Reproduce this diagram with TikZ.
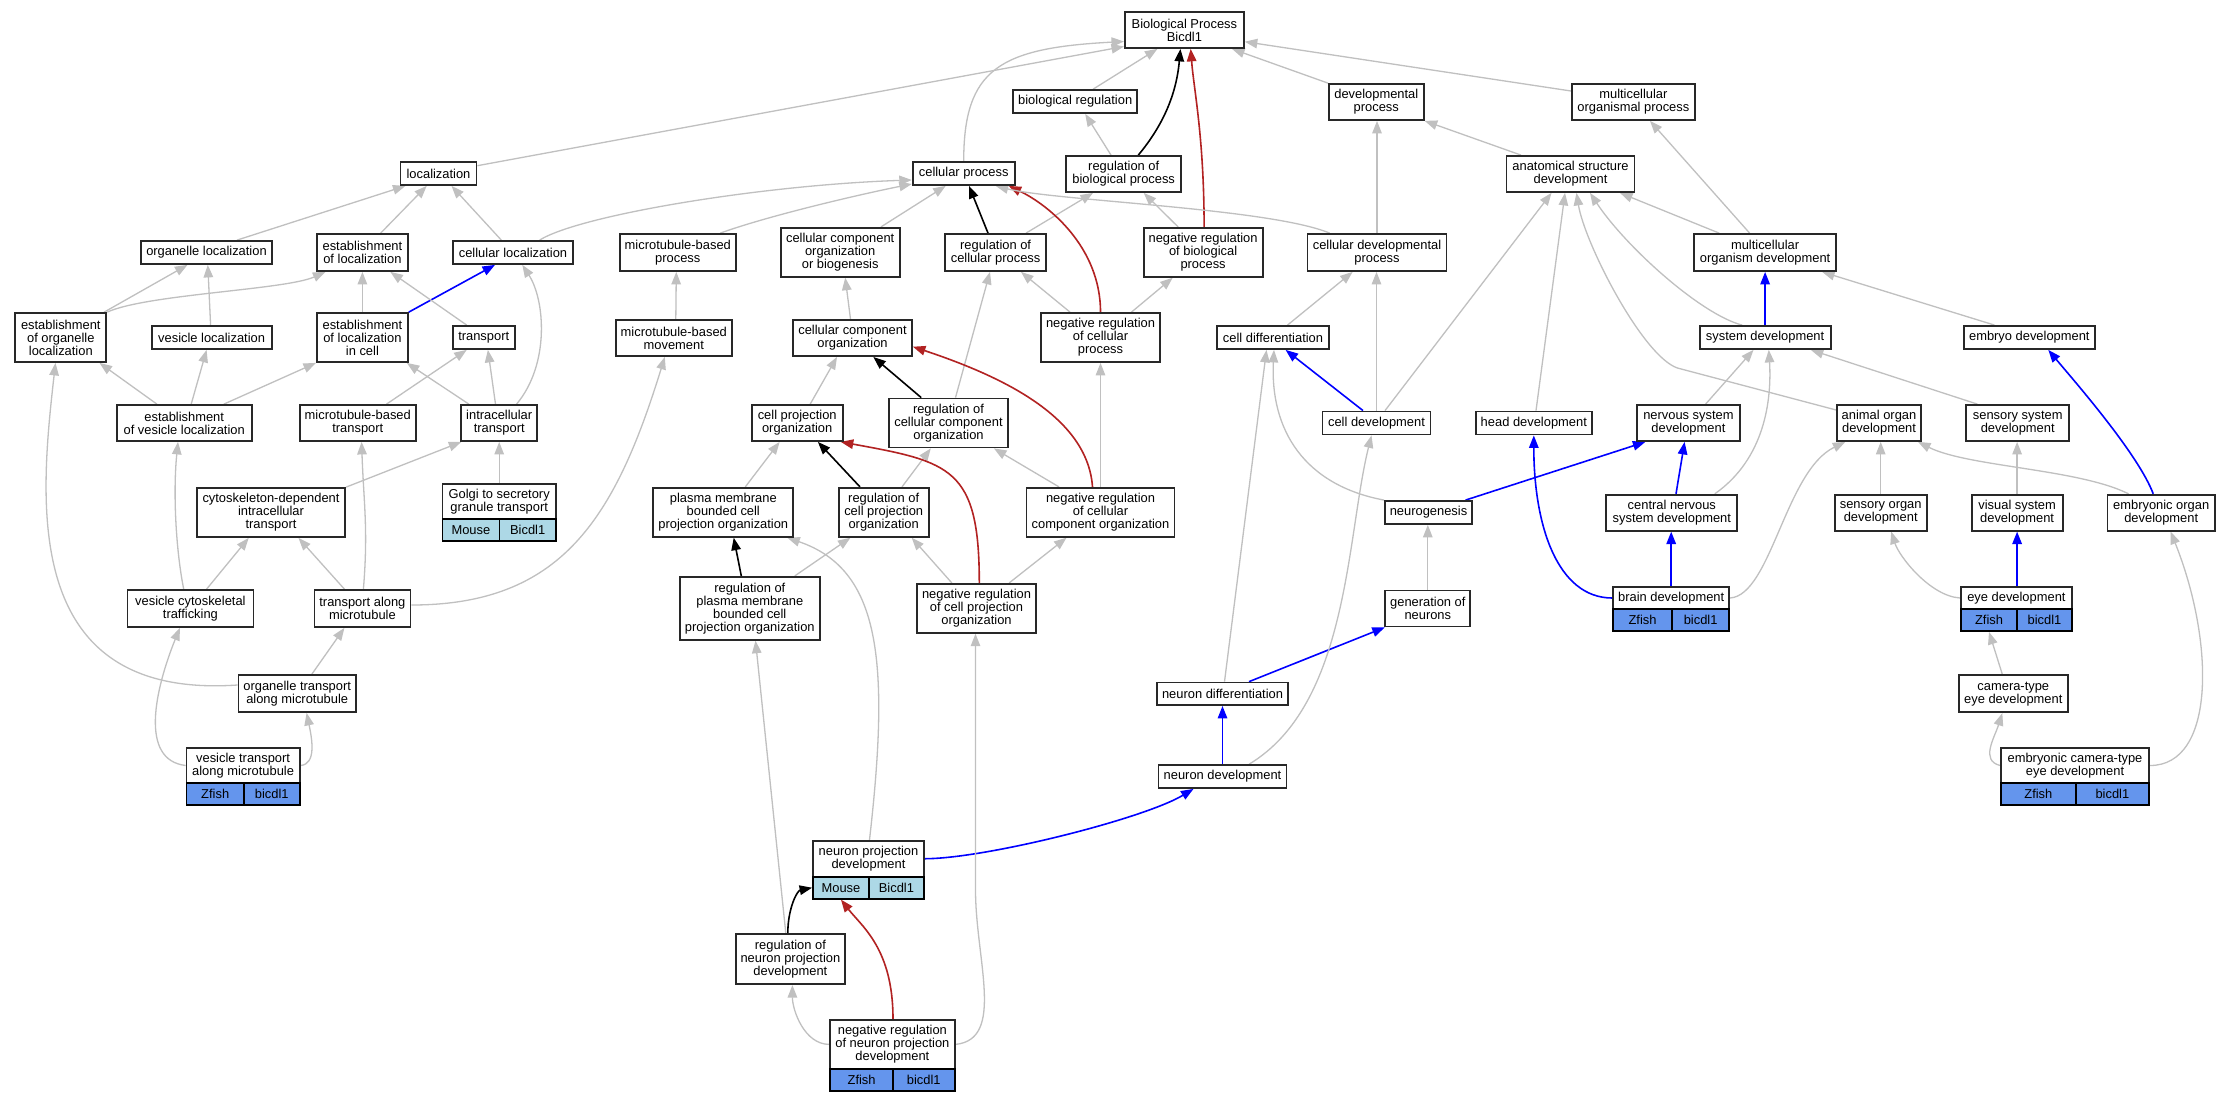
\documentclass[tikz,border=0pt]{standalone}
\usepackage{fontspec}
\setmainfont{Liberation Sans}
\usetikzlibrary{arrows.meta,calc}
\definecolor{gcol}{RGB}{192,192,192}
\definecolor{bcol}{RGB}{40,40,40}
\definecolor{zcol}{RGB}{100,149,237}
\definecolor{mcol}{RGB}{173,216,230}
\definecolor{rcol}{RGB}{178,34,34}
\newcommand\nf{\fontsize{12.9}{13}\selectfont}
\newcommand\gnode[6]{\node[bx,minimum width=#4pt,minimum height=#5pt] (#1) at (#2,#3) {#6};}
\newcommand\spcell[6]{\node[#2,minimum width=#5pt] (#1) at (#3,#4) {#6};}
\pgfdeclarelayer{bg}
\pgfsetlayers{bg,main}
\tikzset{
  bx/.style={draw=bcol,line width=1.8pt,fill=white,inner sep=0pt,align=center,font=\nf,text=black},
  spc/.style={draw=black,line width=1.8pt,inner sep=0pt,font=\nf,minimum height=22pt,text=black},
  zf/.style={spc,fill=zcol},
  ms/.style={spc,fill=mcol},
  tip/.style={-{Triangle[length=12.5pt,width=9.5pt]}},
  ge/.style={tip,draw=gcol,line width=1.3pt},
  be/.style={tip,draw=blue,line width=1.6pt},
  re/.style={tip,draw=rcol,line width=1.6pt},
  ke/.style={tip,draw=black,line width=1.6pt}
}
\begin{document}
\begin{tikzpicture}[x=1pt,y=-1pt]
\useasboundingbox (0,0) rectangle (2231,1101);
% ---------- nodes ----------
\gnode{bp}{1184.4}{30}{119}{36}{Biological Process\\Bicdl1}
\gnode{breg}{1075.2}{101.5}{124}{23}{biological regulation}
\gnode{devp}{1376.3}{102}{95}{36}{developmental\\process}
\gnode{mop}{1633.4}{102}{123}{36}{multicellular\\organismal process}
\gnode{loc}{438.5}{173.5}{76}{23}{localization}
\gnode{cp}{963.7}{173.5}{102}{23}{cellular process}
\gnode{rbp}{1123.7}{174}{115}{36}{regulation of\\biological process}
\gnode{asd}{1570.5}{174}{128}{36}{anatomical structure\\development}
\gnode{orgloc}{206.5}{252.5}{131}{23}{organelle localization}
\gnode{estloc}{362.4}{252.5}{91}{37}{establishment\\of localization}
\gnode{cellloc}{513}{252.5}{120.5}{23}{cellular localization}
\gnode{mbp}{677.8}{252.5}{116}{37}{microtubule-based\\process}
\gnode{ccob}{840.2}{252.3}{119}{49}{cellular component\\organization\\or biogenesis}
\gnode{rcp}{995.6}{252.5}{101.4}{37}{regulation of\\cellular process}
\gnode{nrbp}{1203.1}{252.3}{119}{49}{negative regulation\\of biological\\process}
\gnode{cdp}{1377}{252.5}{139}{37}{cellular developmental\\process}
\gnode{mod}{1765.1}{252.5}{142}{37}{multicellular\\organism development}
\gnode{estorgloc}{60.8}{337.5}{91}{49}{establishment\\of organelle\\localization}
\gnode{vesloc}{211.6}{337.5}{120}{23}{vesicle localization}
\gnode{estlocc}{362.4}{337.5}{91}{49}{establishment\\of localization\\in cell}
\gnode{transp}{483.7}{337.5}{62}{23}{transport}
\gnode{mbm}{673.8}{338}{116}{36}{microtubule-based\\movement}
\gnode{cco}{852.5}{338}{119}{36}{cellular component\\organization}
\gnode{nrcp}{1100.5}{337.5}{119}{49}{negative regulation\\of cellular\\process}
\gnode{celldiff}{1273}{337.5}{112.5}{23}{cell differentiation}
\gnode{sysdev}{1765.1}{337.5}{131}{23}{system development}
\gnode{embdev}{2029.3}{337.5}{131}{23}{embryo development}
\gnode{estvesloc}{184.2}{423}{135}{36}{establishment\\of vesicle localization}
\gnode{mbt}{357.8}{423}{116}{36}{microtubule-based\\transport}
\gnode{ict}{499.2}{423}{76}{36}{intracellular\\transport}
\gnode{cpo}{797.2}{423}{91}{36}{cell projection\\organization}
\gnode{rcco}{948.5}{423}{119}{49}{regulation of\\cellular component\\organization}
\gnode{celldev}{1376.5}{423}{108}{23}{cell development}
\gnode{headdev}{1533.8}{423}{116}{23}{head development}
\gnode{nsd}{1688.4}{423}{103}{36}{nervous system\\development}
\gnode{aod}{1879}{423}{84}{36}{animal organ\\development}
\gnode{ssd}{2017.7}{423}{103}{36}{sensory system\\development}
\gnode{cdit}{271}{512.5}{148.5}{49}{cytoskeleton-dependent\\intracellular\\transport}
\gnode{golgi}{499.2}{501.5}{113.6}{35}{Golgi to secretory\\granule transport}
\gnode{pmbcpo}{723.3}{512.3}{140}{49}{plasma membrane\\bounded cell\\projection organization}
\gnode{rcpo}{883.7}{512.3}{90}{49}{regulation of\\cell projection\\organization}
\gnode{nrcco}{1100.5}{512.3}{148}{49}{negative regulation\\of cellular\\component organization}
\gnode{neurog}{1428.5}{512.5}{87}{23}{neurogenesis}
\gnode{cnsd}{1671.8}{512.7}{131}{36}{central nervous\\system development}
\gnode{sod}{1880.7}{512.7}{92}{36}{sensory organ\\development}
\gnode{vsd}{2017.1}{512.7}{91}{36}{visual system\\development}
\gnode{eod}{2161.2}{512.7}{107.6}{36}{embryonic organ\\development}
\gnode{vct}{190.4}{608.5}{126}{37}{vesicle cytoskeletal\\trafficking}
\gnode{tam}{362.4}{608.5}{96}{37}{transport along\\microtubule}
\gnode{rpmb}{749.8}{608.3}{140}{63}{regulation of\\plasma membrane\\bounded cell\\projection organization}
\gnode{nrcpo}{976.5}{608.3}{119}{49}{negative regulation\\of cell projection\\organization}
\gnode{gon}{1427.8}{608.5}{85}{36}{generation of\\neurons}
\gnode{brain}{1671.2}{598}{116}{22.6}{brain development}
\gnode{eye}{2016.4}{598}{111}{22.6}{eye development}
\gnode{otam}{297.2}{693.5}{117.5}{37}{organelle transport\\along microtubule}
\gnode{ndiff}{1222.5}{693.8}{131}{22.5}{neuron differentiation}
\gnode{cted}{2013.3}{693.7}{109.4}{37}{camera-type\\eye development}
\gnode{vtam}{243.1}{765.5}{113.2}{35}{vesicle transport\\along microtubule}
\gnode{ndev}{1222.5}{776.5}{128}{23}{neuron development}
\gnode{ected}{2075}{765.5}{148}{35.6}{embryonic camera-type\\eye development}
\gnode{npd}{868.5}{858.7}{111}{36}{neuron projection\\development}
\gnode{rnpd}{790.4}{959.2}{109.5}{50}{regulation of\\neuron projection\\development}
\gnode{nrnpd}{892.4}{1044.4}{124.4}{49.3}{negative regulation\\of neuron projection\\development}
% species cells
\spcell{golgim}{ms}{470.9}{530}{57}{Mouse}
\spcell{golgib}{ms}{527.7}{530}{56.6}{Bicdl1}
\spcell{vtamz}{zf}{215.2}{794}{57.4}{Zfish}
\spcell{vtamb}{zf}{271.8}{794}{55.8}{bicdl1}
\spcell{brainz}{zf}{1642.55}{620}{58.7}{Zfish}
\spcell{brainb}{zf}{1700.6}{620}{57.4}{bicdl1}
\spcell{eyez}{zf}{1989}{620}{56.2}{Zfish}
\spcell{eyeb}{zf}{2044.45}{620}{54.7}{bicdl1}
\spcell{ectedz}{zf}{2038.35}{794.3}{74.7}{Zfish}
\spcell{ectedb}{zf}{2112.4}{794.3}{73.4}{bicdl1}
\spcell{npdm}{ms}{840.95}{887.7}{55.9}{Mouse}
\spcell{npdb}{ms}{896.45}{887.7}{55.1}{Bicdl1}
\spcell{nrnpdz}{zf}{861.6}{1080}{62.8}{Zfish}
\spcell{nrnpdb}{zf}{923.8}{1080}{61.6}{bicdl1}
% ---------- edges ----------
\begin{pgfonlayer}{bg}
\fill[white] (0,0) rectangle (2231,1101);
% top
\draw[ge] ([yshift=7.8pt]loc.east) -- ([yshift=-16.5pt]bp.west);
\draw[ge] (cp.north) .. controls +(0,-92) and +(-124.9,6.5) .. ([yshift=-11.5pt]bp.west);
\draw[ge] ([xshift=18pt]breg.north) -- ([xshift=-27pt]bp.south);
\draw[ke] ([xshift=14.6pt]rbp.north) .. controls +(25,-30) and +(-4,45) .. ([xshift=-4pt]bp.south);
\draw[re] ([xshift=1pt]nrbp.north) .. controls +(0,-90) and +(3,40) .. ([xshift=6.3pt]bp.south);
\draw[ge] (devp.north west) -- ([xshift=47.6pt]bp.south);
\draw[ge] ([yshift=11pt]mop.west) -- ([yshift=-11.7pt]bp.east);
\draw[ge] ([xshift=-12.7pt]rbp.north) -- ([xshift=10pt]breg.south);
\draw[ke] ([xshift=-7.6pt]rcp.north) -- ([xshift=5.3pt]cp.south);
\draw[ge] ([xshift=30.4pt]rcp.north) -- ([xshift=-30.7pt]rbp.south);
\draw[re] (nrcp.north) .. controls +(0,-65) and +(40,19) .. ([xshift=45pt]cp.south);
\draw[ge] ([xshift=-30.5pt]nrcp.north) -- ([xshift=25.4pt]rcp.south);
\draw[ge] ([xshift=31pt]nrcp.north) -- ([xshift=-30.4pt]nrbp.south);
\draw[ge] ([xshift=-25pt]nrbp.north) -- ([xshift=20pt]rbp.south);
\draw[ge] ([xshift=-47.4pt]cdp.north) .. controls +(-60,-25) and +(60,15) .. ([xshift=32pt]cp.south);
\draw[ge] ([xshift=26.6pt]cellloc.north) .. controls +(40,-25) and +(-150,5) .. ([yshift=-6.5pt]cp.west);
\draw[ge] ([xshift=42.5pt]mbp.north) .. controls +(50,-18) and +(-50,10) .. ([yshift=-10.5pt]cp.west);
\draw[ge] ([xshift=40.8pt]ccob.north) -- ([xshift=-18pt]cp.south);
\draw[ge] (cdp.north) -- (cdp.north |- devp.south);
\draw[ge] ([xshift=-49.5pt]asd.north) -- (devp.south east);
\draw[ge] ([xshift=-15.5pt]mod.north) -- ([xshift=16.6pt]mop.south);
\draw[ge] ([xshift=-46pt]mod.north) -- ([xshift=49.5pt]asd.south);
\draw[be] (sysdev.north) -- (mod.south);
\draw[ge] ([xshift=-23pt]sysdev.north) .. controls +(-42,-11) and +(35,53) .. ([xshift=19.5pt]asd.south);
\draw[ge] ([xshift=-34.8pt]embdev.north) -- ([xshift=57pt]mod.south);
\draw[ge] ([xshift=14.5pt]celldiff.north) -- ([xshift=-24.4pt]cdp.south);
\draw[ge] (celldev.north) -- (celldev.north |- cdp.south);
\draw[be] ([xshift=-13.5pt]celldev.north) -- ([xshift=12.6pt]celldiff.south);
\draw[ge] ([xshift=8.5pt]celldev.north) -- ([xshift=-19pt]asd.south);
\draw[ge] ([xshift=2.2pt]headdev.north) -- ([xshift=-5.5pt]asd.south);
\draw[ge] ([yshift=13pt]aod.west) -- ++(-158.7,-42) .. controls +(-35,-12) and +(8,50) .. ([xshift=6pt]asd.south);
\draw[ge] ([xshift=17.2pt]nsd.north) -- ([xshift=-11.6pt]sysdev.south);
\draw[ge] ([xshift=43pt]cnsd.north) .. controls +(50,-35) and +(3,50) .. ([xshift=3.7pt]sysdev.south);
\draw[ge] ([xshift=-40.4pt]ssd.north) -- ([xshift=45.7pt]sysdev.south);
\draw[be] ([xshift=37pt]neurog.north) -- ([xshift=-43pt]nsd.south);
\draw[ge] (neurog.north west) .. controls +(-80,-15) and +(-4,80) .. ([xshift=1pt]celldiff.south);
\draw[be] ([xshift=4.2pt]cnsd.north) -- ([xshift=-3.8pt]nsd.south);
\draw[be] (brain.north) -- (brain.north |- cnsd.south);
\draw[be] (brain.west) .. controls +(-55,0) and +(0,90) .. (headdev.south);
\draw[ge] (brain.east) .. controls +(41,-3) and +(-60,29) .. ([xshift=-33.7pt]aod.south);
\draw[ge] (gon.north) -- (gon.north |- neurog.south);
\draw[be] ([xshift=26.5pt]ndiff.north) -- ([xshift=-43pt]gon.south);
\draw[ge] ([xshift=2pt]ndiff.north) -- ([xshift=-6.5pt]celldiff.south);
\draw[be] (ndev.north) -- (ndiff.south);
\draw[ge] ([xshift=26.7pt]ndev.north) .. controls +(100,-60) and +(-25,100) .. ([xshift=-5pt]celldev.south);
\draw[ge] (sod.north) -- (sod.north |- aod.south);
\draw[ge] ([xshift=-32.7pt]eod.north) .. controls +(-50,-25) and +(50,25) .. ([xshift=39pt]aod.south);
\draw[be] ([xshift=-8pt]eod.north) .. controls +(-15,-40) and +(25,30) .. ([xshift=19pt]embdev.south);
\draw[ge] (vsd.north) -- (vsd.north |- ssd.south);
\draw[be] (vsd.south |- eye.north) -- (vsd.south);
\draw[ge] (eye.west) .. controls +(-30,-2) and +(8,25) .. ([xshift=10.5pt]sod.south);
\draw[ge] ([xshift=-11pt]cted.north) -- (eyez.south);
\draw[ge] (ected.west) .. controls +(-20,-5) and +(-8,25) .. ([xshift=-11pt]cted.south);
\draw[ge] (ected.east) .. controls +(66,0) and +(44,110) .. ([xshift=9.4pt]eod.south);
% left
\draw[ge] ([xshift=30.5pt]orgloc.north) -- ([xshift=-33pt]loc.south);
\draw[ge] ([xshift=18.3pt]estloc.north) -- ([xshift=-11.8pt]loc.south);
\draw[ge] ([xshift=-11.7pt]cellloc.north) -- ([xshift=13pt]loc.south);
\draw[ge] ([xshift=-3pt]estorgloc.north east) -- ([xshift=-19pt]orgloc.south);
\draw[ge] (estorgloc.north east) .. controls +(40,-18) and +(-40,18) .. ([xshift=-37pt]estloc.south);
\draw[ge] ([xshift=-1pt]vesloc.north) -- ([xshift=1.3pt]orgloc.south);
\draw[ge] (estlocc.north) -- (estloc.south);
\draw[be] (estlocc.north east) -- ([xshift=-18pt]cellloc.south);
\draw[ge] ([xshift=-17pt]transp.north) -- ([xshift=28pt]estloc.south);
\draw[ge] ([xshift=-27.3pt]estvesloc.north) -- ([xshift=38.7pt]estorgloc.south);
\draw[ge] ([xshift=7pt]estvesloc.north) -- ([xshift=-5pt]vesloc.south);
\draw[ge] ([xshift=39.7pt]estvesloc.north) -- (estlocc.south west);
\draw[ge] ([xshift=28.7pt]mbt.north) -- ([xshift=-17pt]transp.south);
\draw[ge] ([xshift=-30.4pt]ict.north) -- ([xshift=-2pt]estlocc.south east);
\draw[ge] ([xshift=-3.7pt]ict.north) -- ([xshift=4.2pt]transp.south);
\draw[ge] ([xshift=17.4pt]ict.north) .. controls +(33.4,-40) and +(22.7,35) .. ([xshift=9.3pt]cellloc.south);
\draw[ge] (golgi.north) -- (golgi.north |- ict.south);
\draw[ge] (cdit.north east) -- ([xshift=1pt]ict.south west);
\draw[ge] ([xshift=-6.7pt]vct.north) .. controls +(-8,-40) and +(-5,50) .. ([xshift=-6.2pt]estvesloc.south);
\draw[ge] ([xshift=16.2pt]vct.north) -- ([xshift=-22.3pt]cdit.south);
\draw[ge] ([xshift=-18pt]tam.north) -- ([xshift=27.5pt]cdit.south);
\draw[ge] ([xshift=1pt]tam.north) .. controls +(5,-60) and +(2,60) .. ([xshift=3.8pt]mbt.south);
\draw[ge] ([yshift=3.5pt]tam.east) .. controls +(150,0) and +(-50,162) .. ([xshift=-9pt]mbm.south);
\draw[ge] ([xshift=2pt]mbm.north) -- ([xshift=-1.5pt]mbp.south);
\draw[ge] ([xshift=14.7pt]otam.north) -- ([xshift=-18pt]tam.south);
\draw[ge] ([yshift=8.5pt]otam.west) .. controls +(-218.4,15) and +(-15.5,137) .. ([xshift=-5.3pt]estorgloc.south);
\draw[ge] (vtam.west) .. controls +(-46.5,-5.5) and +(-24.8,61.7) .. ([xshift=-10.6pt]vct.south);
\draw[ge] (vtam.east) .. controls +(16,-1.5) and +(5.4,26) .. ([xshift=9.4pt]otam.south);
% middle
\draw[ge] ([xshift=-2pt]cco.north) -- ([xshift=5pt]ccob.south);
\draw[ge] ([xshift=13pt]cpo.north) -- ([xshift=-15.5pt]cco.south);
\draw[ke] ([xshift=-27.3pt]rcco.north) -- ([xshift=20.8pt]cco.south);
\draw[ge] ([xshift=7pt]rcco.north) -- ([xshift=-5.6pt]rcp.south);
\draw[re] ([xshift=-8pt]nrcco.north) .. controls +(-5,-70) and +(90,30) .. ([yshift=-8.7pt]cco.east);
\draw[ge] ([xshift=-41.5pt]nrcco.north) -- ([xshift=45.4pt]rcco.south);
\draw[ge] (nrcco.north) -- (nrcp.south);
\draw[ge] ([xshift=22pt]pmbcpo.north) -- ([xshift=-17.6pt]cpo.south);
\draw[ke] ([xshift=-23.7pt]rcpo.north) -- ([xshift=20.7pt]cpo.south);
\draw[ge] ([xshift=18.3pt]rcpo.north) -- ([xshift=-17.7pt]rcco.south);
\draw[re] ([xshift=2.8pt]nrcpo.north) .. controls +(0,-115) and +(110,20) .. ([xshift=43.6pt]cpo.south);
\draw[ge] ([xshift=-24.7pt]nrcpo.north) -- ([xshift=28pt]rcpo.south);
\draw[ge] ([xshift=32.7pt]nrcpo.north) -- ([xshift=-34pt]nrcco.south);
\draw[ke] ([xshift=-8.5pt]rpmb.north) -- ([xshift=10.4pt]pmbcpo.south);
\draw[ge] ([xshift=45pt]rpmb.north) -- ([xshift=-33.3pt]rcpo.south);
\draw[ge] ([xshift=1pt]npd.north) .. controls +(20.7,-180.7) and +(92.8,31.7) .. ([xshift=64pt]pmbcpo.south);
\draw[be] (npd.east) .. controls +(60,0) and +(-50,30) .. ([xshift=-29pt]ndev.south);
\draw[ge] ([xshift=-4.6pt]rnpd.north) -- ([xshift=5.7pt]rpmb.south);
\draw[ke] ([xshift=-2.6pt]rnpd.north) .. controls +(0,-25) and +(-15,3) .. (npdm.west);
\draw[re] ([xshift=0.6pt]nrnpd.north) .. controls +(0,-70) and +(21,27) .. (npdm.south);
\draw[ge] (nrnpd.west) .. controls +(-25,0) and +(0,25) .. ([xshift=2pt]rnpd.south);
\draw[ge] (nrnpd.east) .. controls +(50,-5) and +(0,70) .. ([xshift=-1pt,yshift=-256pt]nrcpo.south) -- ([xshift=-1pt]nrcpo.south);
\end{pgfonlayer}
\end{tikzpicture}
\end{document}
